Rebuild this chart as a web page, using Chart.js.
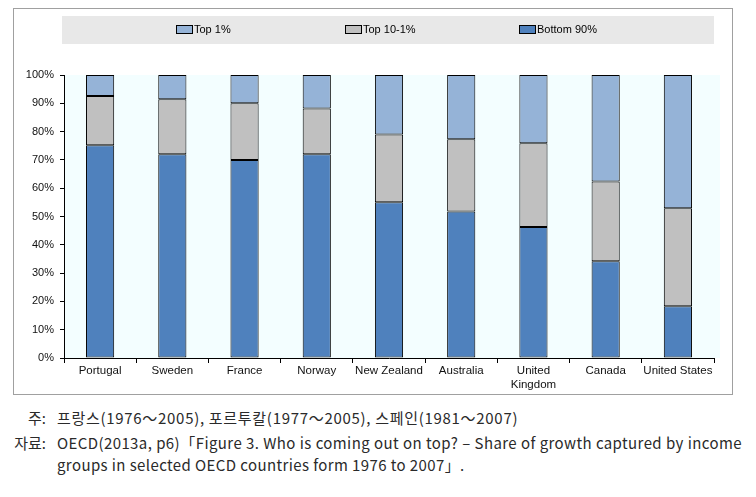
<!DOCTYPE html>
<html>
<head>
<meta charset="utf-8">
<script src="https://cdn.jsdelivr.net/npm/chart.js@4"></script>
<style>
  html, body { margin: 0; padding: 0; background: #fff; }
  #wrap { position: relative; width: 756px; height: 400px; }
  .note { position: absolute; left: 0; width: 742px; font-family: "Noto Sans CJK KR", sans-serif; font-size: 15px; color: #2a2a2a; line-height: 22px; }
  .lbl { position: absolute; left: 0; width: 46px; text-align: right; }
  .txt { margin-left: 57px; text-align: justify; text-align-last: left; letter-spacing: 0.4px; }
</style>
</head>
<body>
<div id="wrap"><canvas id="c" width="756" height="400"></canvas></div>
<div class="note" style="top:407px;"><span class="lbl">주:</span><div class="txt" style="letter-spacing:0.7px">프랑스(1976～2005), 포르투칼(1977～2005), 스페인(1981～2007)</div></div>
<div class="note" style="top:432px;"><span class="lbl">자료:</span><div class="txt">OECD(2013a, p6)「Figure 3. Who is coming out on top? – Share of growth captured by income groups in selected OECD countries form 1976 to 2007」.</div></div>
<script>
const categories = ['Portugal', 'Sweden', 'France', 'Norway', 'New Zealand', 'Australia', ['United', 'Kingdom'], 'Canada', 'United States'];
const bottom90 = [75.2, 72.0, 70.0, 72.0, 55.0, 51.8, 46.3, 34.2, 18.3];
const top10to1 = [17.4, 19.4, 20.0, 16.2, 24.0, 25.5, 29.6, 28.2, 34.6];
const top1 = [7.4, 8.6, 10.0, 11.8, 21.0, 22.7, 24.1, 37.6, 47.1];
const yTicks = [0, 10, 20, 30, 40, 50, 60, 70, 80, 90, 100];

const FONT = '"Liberation Sans", Arial, sans-serif';

const framePlugin = {
  id: 'frame',
  beforeDraw(chart) {
    const ctx = chart.ctx, a = chart.chartArea;
    ctx.save();
    ctx.fillStyle = '#f3feff';
    ctx.fillRect(a.left, a.top, a.right - a.left + 6, a.bottom - a.top);
    ctx.strokeStyle = '#a0a0a0';
    ctx.lineWidth = 1;
    ctx.strokeRect(13.5, 8.5, 719, 386);
    // legend band
    ctx.fillStyle = '#e8e8e8';
    ctx.fillRect(62, 16, 652, 28);
    const items = [
      { ds: 2, x: 176 },
      { ds: 1, x: 345 },
      { ds: 0, x: 519 }
    ];
    ctx.font = '11px ' + FONT;
    ctx.textBaseline = 'middle';
    items.forEach(it => {
      const d = chart.data.datasets[it.ds];
      ctx.fillStyle = d.backgroundColor;
      ctx.fillRect(it.x, 25, 17, 9);
      ctx.strokeStyle = '#000';
      ctx.lineWidth = 1;
      ctx.strokeRect(it.x + 0.5, 25.5, 16, 8);
      ctx.fillStyle = '#000';
      ctx.fillText(d.label, it.x + 18, 30);
    });
    ctx.restore();
  }
};

new Chart(document.getElementById('c'), {
  type: 'bar',
  data: {
    labels: categories,
    datasets: [
      { label: 'Bottom 90%', data: bottom90, backgroundColor: '#4f81bd' },
      { label: 'Top 10-1%', data: top10to1, backgroundColor: '#c0c0c0' },
      { label: 'Top 1%', data: top1, backgroundColor: '#95b3d7' }
    ]
  },
  options: {
    responsive: false,
    animation: false,
    events: [],
    layout: { padding: { top: 75, left: 0, right: 42, bottom: 4 } },
    datasets: { bar: { categoryPercentage: 1, barPercentage: 0.39, borderColor: '#000', borderWidth: 1, borderSkipped: false, inflateAmount: 0 } },
    plugins: { legend: { display: false }, tooltip: { enabled: false } },
    scales: {
      x: {
        stacked: true,
        grid: { display: true, drawOnChartArea: false, offset: true, tickLength: 5, color: '#000' },
        border: { display: true, color: '#000' },
        ticks: { color: '#111', font: { family: FONT, size: 11.5 }, padding: 1, maxRotation: 0, autoSkip: false },
        afterFit(s) { s.height = 38; }
      },
      y: {
        stacked: true,
        min: 0, max: 100,
        afterBuildTicks(s) { s.ticks = yTicks.map(v => ({ value: v })); },
        grid: { display: true, drawOnChartArea: false, tickLength: 4, color: '#000' },
        border: { display: true, color: '#000' },
        ticks: { color: '#111', font: { family: FONT, size: 11 }, padding: 6, callback: v => v + '%' },
        afterFit(s) { s.width = 64; }
      }
    }
  },
  plugins: [framePlugin]
});
</script>
</body>
</html>
